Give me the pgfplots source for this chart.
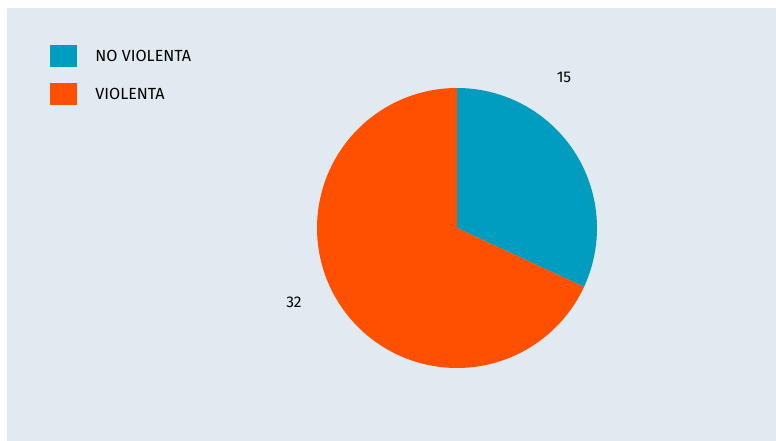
\documentclass[border=0pt]{standalone}
\usepackage{pgfplots}
\pgfplotsset{compat=1.18}
\usepackage{fontspec}
\setmainfont{Fira Sans}
\definecolor{bgc}{RGB}{226,234,241}
\definecolor{cblue}{RGB}{0,157,193}
\definecolor{corange}{RGB}{255,80,0}
\def\va{15}
\def\vb{32}
\pgfmathsetmacro{\angA}{360*\va/(\va+\vb)}
\pgfmathsetmacro{\startA}{90-\angA}
\pgfmathsetmacro{\endB}{90-360}
\begin{document}
\begin{tikzpicture}[x=1pt,y=1pt]
\fill[white] (0,0) rectangle (776,441);
\fill[bgc] (7,0) rectangle (776,433);
\begin{axis}[at={(0,0)},anchor=south west,
  width=776pt,height=441pt,scale only axis,
  xmin=0,xmax=776,ymin=0,ymax=441,
  hide axis, clip=false,
  legend style={at={(50/776,1-45.5/441)},anchor=north west,draw=none,fill=none,
    font=\fontsize{16.1}{18}\selectfont,row sep=16pt,
    legend cell align=left, inner sep=0pt, outer sep=0pt},
  legend image code/.code={\fill[#1] (0pt,-11pt) rectangle (27pt,11pt);},
  ]
\addplot[fill=cblue,draw=none,domain=\startA:90,samples=100]
  ({457+140*cos(x)},{213+140*sin(x)}) -- (axis cs:457,213) -- cycle;
\addlegendentry{\hspace{16.5pt}NO VIOLENTA}
\addplot[fill=corange,draw=none,domain=\endB:\startA,samples=200]
  ({457+140*cos(x)},{213+140*sin(x)}) -- (axis cs:457,213) -- cycle;
\addlegendentry{\hspace{16.5pt}VIOLENTA}
\node[font=\fontsize{15.5}{18}\selectfont] at (axis cs:564,364) {\va};
\node[font=\fontsize{15.5}{18}\selectfont] at (axis cs:294,139) {\vb};
\end{axis}
\end{tikzpicture}
\end{document}
